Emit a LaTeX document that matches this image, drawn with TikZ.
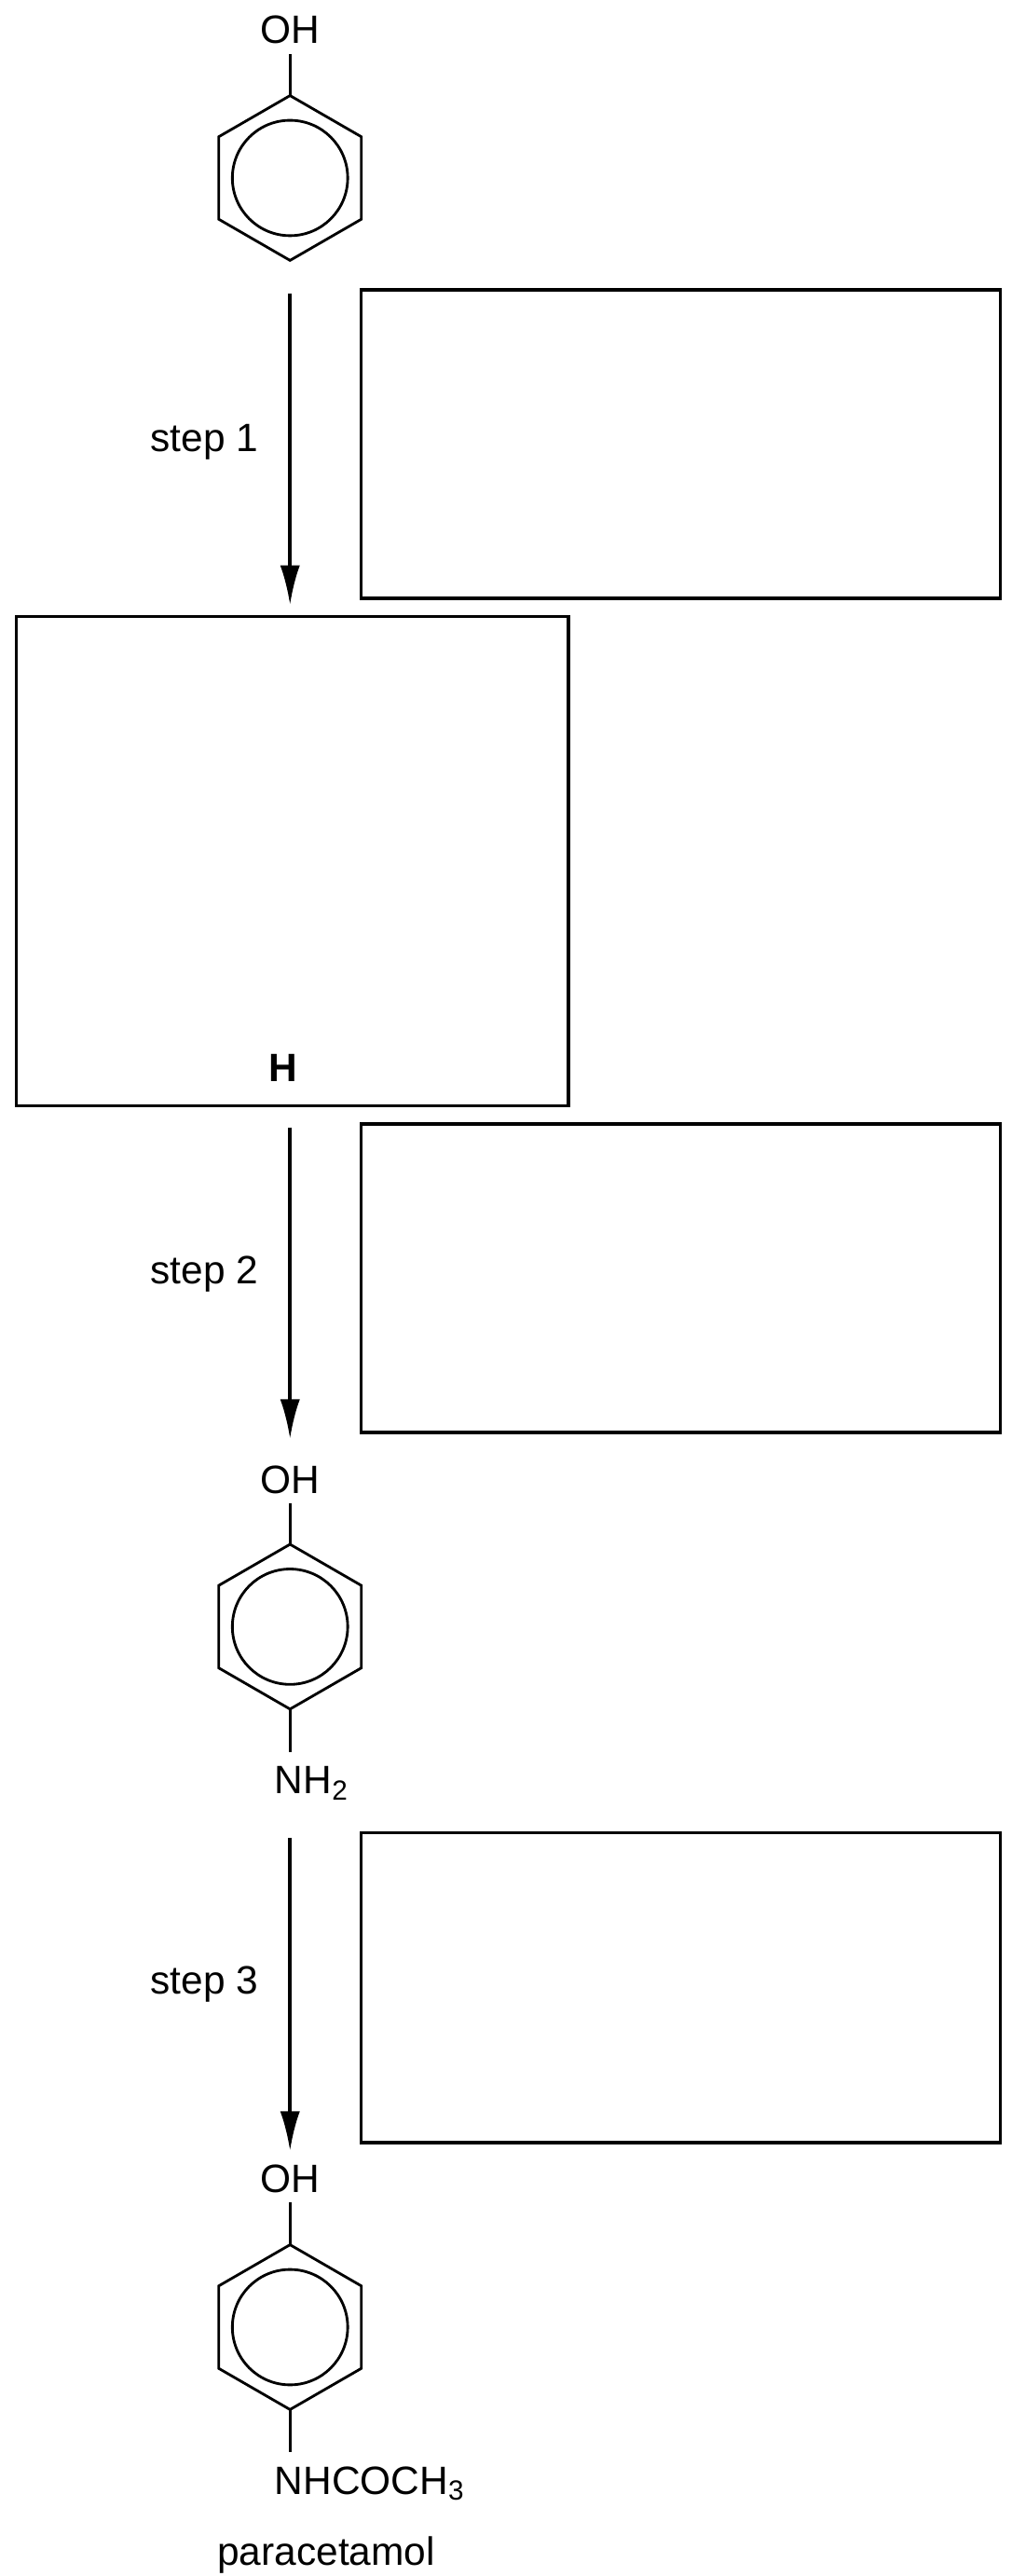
\documentclass[tikz,border=0pt]{standalone}
\usepackage{fontspec}
\setmainfont{Liberation Sans}
\usetikzlibrary{arrows.meta}
\begin{document}
\begin{tikzpicture}[x=1pt,y=-1pt,line width=1.6pt,
  lbl/.style={font=\fontsize{24}{28}\selectfont,inner sep=0pt},
  box/.style={draw,line width=2pt},
  arr/.style={-{Latex[length=24pt,width=12pt]},line width=2pt},
  ring/.style={line width=1.6pt}]
\useasboundingbox (0,0) rectangle (614,1563);
\newcommand{\benz}[2]{%
  \draw[ring] (#1,#2-50) -- (#1+43.3,#2-25) -- (#1+43.3,#2+25) -- (#1,#2+50) -- (#1-43.3,#2+25) -- (#1-43.3,#2-25) -- cycle;
  \draw[ring] (#1,#2) circle (35);}
% molecule 1
\node[lbl] (oh1) at (176,18) {OH};
\benz{176}{108}
\draw[ring] (176,33) -- (176,58);
\coordinate (a1s) at (176,178);
\coordinate (a1e) at (176,367);
\draw[arr] (a1s) -- (a1e);
\node[lbl] (s1) at (124,268) {step 1};
\node[box,minimum width=388,minimum height=187,anchor=north west] (b1) at (218,175) {};
\node[box,minimum width=335,minimum height=297,anchor=north west] (bH) at (9,373) {};
\node[lbl,font=\fontsize{24}{28}\selectfont\bfseries] (H) at (172,648) {H};
% step 2
\coordinate (a2s) at (176,684);
\coordinate (a2e) at (176,873);
\draw[arr] (a2s) -- (a2e);
\node[lbl] (s2) at (124,773) {step 2};
\node[box,minimum width=388,minimum height=187,anchor=north west] (b2) at (218,681) {};
\node[lbl] (oh2) at (176,898) {OH};
\benz{176}{987}
\draw[ring] (176,912) -- (176,937);
\draw[ring] (176,1037) -- (176,1063);
\node[lbl,anchor=west] (nh2) at (166,1082) {NH\textsubscript{2}};
% step 3
\coordinate (a3s) at (176,1115);
\coordinate (a3e) at (176,1305);
\draw[arr] (a3s) -- (a3e);
\node[lbl] (s3) at (124,1204) {step 3};
\node[box,minimum width=388,minimum height=188,anchor=north west] (b3) at (218,1111) {};
\node[lbl] (oh3) at (176,1322) {OH};
\benz{176}{1412}
\draw[ring] (176,1336) -- (176,1362);
\draw[ring] (176,1462) -- (176,1488);
\node[lbl,anchor=west] (nhco) at (166,1507) {NHCOCH\textsubscript{3}};
\node[lbl] (para) at (198,1550) {paracetamol};
\end{tikzpicture}
\end{document}
